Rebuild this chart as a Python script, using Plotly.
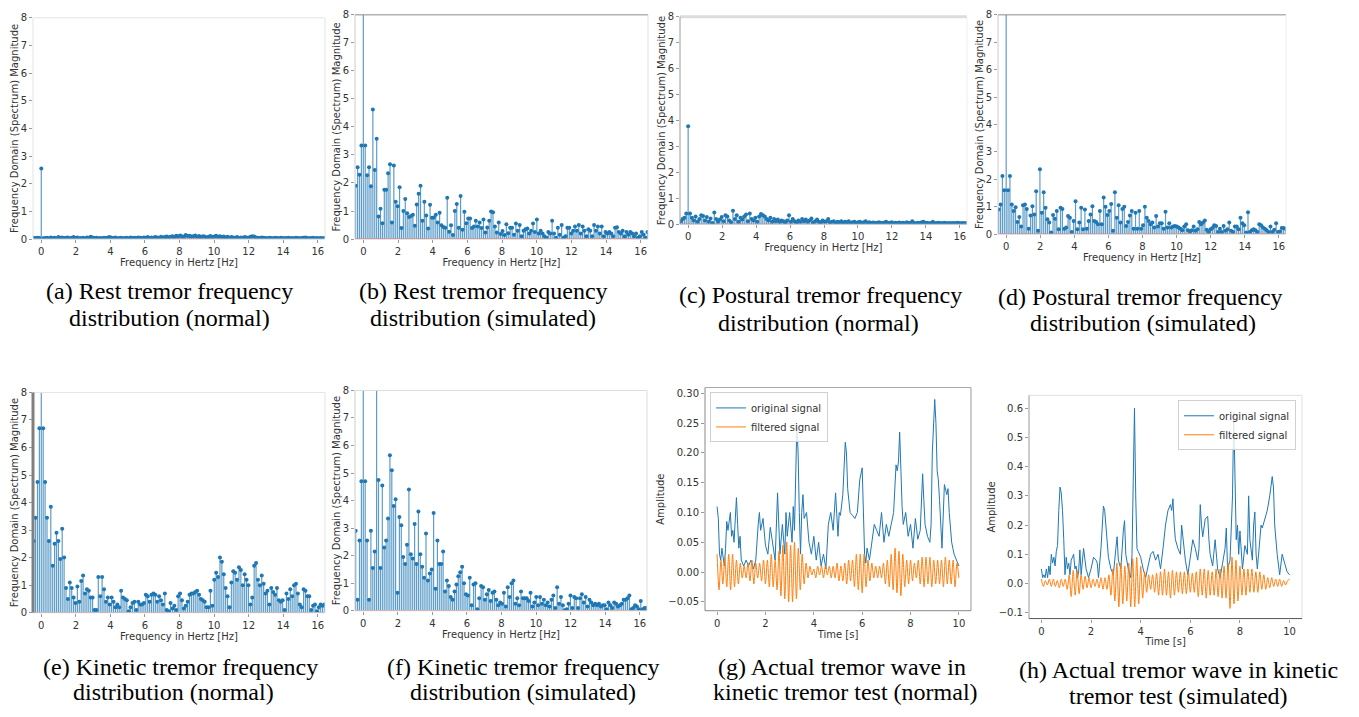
import plotly.graph_objects as go

W, H = 1359, 717
FREQ_STEP = 0.11  # spacing of spectrum bins in Hz

# ---------------- spectrum data: values below 0 Hz, at 0 Hz, above 0 Hz ----------------
A_NEG = [0.05, 0.04, 0.05, 0.04]
A_ZERO = 2.55
A_POS = [0.03, 0.04, 0.05, 0.03, 0.06, 0.04, 0.05, 0.03, 0.07, 0.05,
         0.06, 0.04, 0.05, 0.06, 0.03, 0.05, 0.07, 0.04, 0.06, 0.03,
         0.04, 0.05, 0.03, 0.06, 0.05, 0.08, 0.06, 0.04, 0.05, 0.03,
         0.04, 0.03, 0.05, 0.04, 0.06, 0.07, 0.05, 0.04, 0.06, 0.03,
         0.04, 0.05, 0.03, 0.04, 0.05, 0.03, 0.06, 0.04, 0.05, 0.04,
         0.06, 0.05, 0.04, 0.06, 0.05, 0.07, 0.04, 0.06, 0.05, 0.07,
         0.06, 0.05, 0.08, 0.06, 0.07, 0.09, 0.06, 0.08, 0.10, 0.07,
         0.12, 0.09, 0.13, 0.10, 0.08, 0.15, 0.11, 0.12, 0.09, 0.10,
         0.13, 0.08, 0.11, 0.07, 0.10, 0.09, 0.06, 0.08, 0.11, 0.07,
         0.09, 0.12, 0.08, 0.10, 0.07, 0.09, 0.06, 0.08, 0.05, 0.07,
         0.06, 0.05, 0.07, 0.04, 0.06, 0.05, 0.07, 0.06, 0.05, 0.08,
         0.10, 0.09, 0.06, 0.05, 0.04, 0.06, 0.05, 0.04, 0.03, 0.05,
         0.04, 0.03, 0.05, 0.04, 0.03, 0.05, 0.04, 0.03, 0.04, 0.05,
         0.03, 0.04, 0.03, 0.05, 0.04, 0.03, 0.04, 0.05, 0.06, 0.04,
         0.03, 0.04, 0.05, 0.03, 0.04, 0.03, 0.04, 0.03, 0.04]

B_NEG = [1.90, 2.56, 2.29, 3.34]
B_ZERO = 10.0
B_POS = [3.34, 2.28, 2.56, 1.88, 4.62, 2.46, 3.58, 0.80, 1.08, 0.56,
         1.76, 1.76, 2.35, 2.67, 0.59, 2.62, 1.33, 1.17, 1.85, 0.39,
         1.00, 1.43, 0.92, 0.79, 0.82, 0.87, 0.47, 1.23, 1.62, 1.90,
         0.65, 1.33, 0.84, 0.38, 1.22, 0.76, 0.77, 0.87, 0.59, 0.94,
         0.49, 0.43, 0.40, 1.47, 0.26, 0.49, 0.14, 1.00, 1.25, 0.40,
         1.54, 0.33, 0.97, 0.56, 0.73, 0.73, 0.39, 0.45, 0.65, 0.45,
         0.59, 0.39, 0.70, 0.23, 0.41, 0.65, 0.98, 0.96, 0.45, 0.23,
         0.59, 0.18, 0.29, 0.14, 0.53, 0.21, 0.40, 0.40, 0.15, 0.55,
         0.30, 0.50, 0.10, 0.30, 0.35, 0.38, 0.20, 0.30, 0.55, 0.25,
         0.70, 0.20, 0.30, 0.20, 0.10, 0.05, 0.25, 0.20, 0.65, 0.20,
         0.05, 0.40, 0.15, 0.50, 0.05, 0.10, 0.40, 0.40, 0.20, 0.30,
         0.45, 0.30, 0.50, 0.20, 0.45, 0.30, 0.10, 0.35, 0.30, 0.10,
         0.50, 0.30, 0.45, 0.20, 0.45, 0.10, 0.25, 0.20, 0.25, 0.20,
         0.10, 0.40, 0.42, 0.25, 0.20, 0.30, 0.10, 0.25, 0.15, 0.25,
         0.20, 0.10, 0.20, 0.05, 0.10, 0.25, 0.15, 0.05, 0.25]

C_NEG = [0.12, 0.20, 0.25, 0.42]
C_ZERO = 3.78
C_POS = [0.42, 0.25, 0.15, 0.30, 0.10, 0.20, 0.35, 0.32, 0.15, 0.28,
         0.10, 0.22, 0.05, 0.45, 0.20, 0.10, 0.18, 0.28, 0.12, 0.35,
         0.30, 0.15, 0.08, 0.52, 0.20, 0.35, 0.10, 0.25, 0.18, 0.30,
         0.38, 0.12, 0.42, 0.20, 0.15, 0.25, 0.10, 0.30, 0.40, 0.35,
         0.30, 0.20, 0.15, 0.25, 0.10, 0.20, 0.12, 0.18, 0.10, 0.15,
         0.12, 0.08, 0.15, 0.35, 0.10, 0.20, 0.12, 0.08, 0.15, 0.10,
         0.20, 0.12, 0.18, 0.10, 0.15, 0.22, 0.08, 0.12, 0.18, 0.10,
         0.08, 0.15, 0.10, 0.12, 0.20, 0.08, 0.10, 0.12, 0.06, 0.10,
         0.08, 0.12, 0.06, 0.10, 0.08, 0.12, 0.06, 0.08, 0.10, 0.06,
         0.08, 0.10, 0.05, 0.08, 0.12, 0.06, 0.08, 0.05, 0.07, 0.06,
         0.05, 0.08, 0.06, 0.05, 0.07, 0.10, 0.05, 0.06, 0.08, 0.05,
         0.06, 0.05, 0.07, 0.05, 0.06, 0.04, 0.08, 0.05, 0.06, 0.12,
         0.05, 0.04, 0.06, 0.05, 0.08, 0.10, 0.05, 0.06, 0.04, 0.05,
         0.10, 0.04, 0.05, 0.06, 0.05, 0.04, 0.06, 0.05, 0.04, 0.05,
         0.04, 0.05, 0.04, 0.06, 0.05, 0.04, 0.05, 0.04, 0.05]

D_NEG = [0.90, 1.08, 2.12, 1.60]
D_ZERO = 10.0
D_POS = [1.60, 2.12, 1.08, 0.84, 0.98, 0.44, 0.62, 0.28, 1.05, 1.08,
         0.92, 0.20, 0.68, 1.02, 0.72, 1.56, 0.12, 2.37, 0.78, 1.53,
         0.96, 0.54, 0.42, 0.06, 0.70, 0.56, 0.84, 0.18, 0.96, 0.92,
         0.20, 0.24, 0.66, 0.60, 0.08, 0.48, 1.20, 0.18, 0.42, 0.96,
         0.18, 0.90, 0.20, 0.48, 0.72, 1.02, 0.48, 0.44, 0.36, 0.84,
         0.36, 1.34, 1.00, 0.70, 0.84, 1.10, 0.12, 1.53, 0.60, 1.05,
         0.42, 0.92, 1.00, 0.30, 0.44, 0.68, 0.84, 0.20, 0.78, 0.20,
         0.84, 0.20, 0.32, 1.00, 0.60, 0.48, 0.36, 0.42, 0.24, 0.66,
         0.28, 0.40, 0.40, 0.20, 0.82, 0.24, 0.40, 0.24, 0.28, 0.30,
         0.28, 0.24, 0.20, 0.14, 0.28, 0.36, 0.14, 0.10, 0.14, 0.28,
         0.12, 0.18, 0.44, 0.36, 0.42, 0.50, 0.16, 0.08, 0.18, 0.22,
         0.32, 0.30, 0.08, 0.20, 0.08, 0.30, 0.12, 0.18, 0.42, 0.12,
         0.08, 0.28, 0.28, 0.18, 0.60, 0.40, 0.32, 0.06, 0.80, 0.08,
         0.14, 0.18, 0.14, 0.08, 0.36, 0.32, 0.24, 0.20, 0.14, 0.08,
         0.28, 0.08, 0.16, 0.40, 0.08, 0.10, 0.22, 0.22, 0.20]

E_NEG = [2.60, 3.45, 4.75, 6.70]
E_ZERO = 10.0
E_POS = [6.70, 4.75, 3.45, 2.60, 3.85, 1.70, 2.50, 2.90, 2.60, 1.95,
         3.05, 2.00, 0.90, 0.50, 1.10, 0.90, 0.55, 0.35, 0.95, 0.40,
         1.15, 1.35, 0.70, 0.85, 0.80, 0.55, 0.55, 0.10, 0.10, 1.30,
         0.60, 1.30, 0.85, 0.40, 0.55, 0.30, 0.55, 0.40, 0.20, 0.30,
         0.20, 0.80, 0.55, 0.50, 0.45, 0.05, 0.20, 0.35, 0.40, 0.10,
         0.40, 0.30, 0.30, 0.35, 0.65, 0.60, 0.40, 0.65, 0.70, 0.65,
         0.40, 0.60, 0.45, 0.30, 0.70, 0.10, 0.05, 0.35, 0.15, 0.25,
         0.10, 0.60, 0.70, 0.45, 0.15, 0.25, 0.40, 0.65, 0.70, 0.70,
         0.75, 0.80, 0.65, 0.50, 0.45, 0.40, 0.20, 0.20, 0.80, 0.25,
         1.20, 1.45, 1.30, 2.00, 1.85, 1.40, 0.90, 0.60, 0.20, 1.10,
         1.50, 1.45, 1.20, 1.65, 1.55, 1.00, 1.40, 1.20, 1.00, 0.30,
         0.55, 1.70, 1.80, 1.20, 1.00, 1.35, 1.05, 0.70, 0.80, 0.30,
         0.90, 0.75, 0.65, 0.90, 0.45, 0.40, 0.45, 0.10, 0.70, 0.50,
         0.85, 0.60, 1.00, 1.05, 0.70, 0.30, 0.20, 0.85, 0.80, 0.60,
         0.60, 0.10, 0.25, 0.30, 0.05, 0.20, 0.30, 0.25, 0.30]

F_NEG = [2.90, 0.40, 2.55, 4.70]
F_ZERO = 10.0
F_POS = [4.70, 2.55, 0.40, 2.90, 1.55, 2.15, 10.0, 4.75, 1.55, 4.55,
         2.30, 2.55, 3.35, 5.65, 5.10, 3.80, 4.05, 0.65, 3.40, 3.10,
         1.95, 1.70, 2.40, 4.40, 2.05, 1.90, 3.15, 1.70, 3.60, 2.05,
         1.60, 1.20, 2.80, 1.10, 1.35, 1.50, 3.55, 0.80, 2.55, 1.70,
         1.70, 2.15, 0.70, 1.10, 0.90, 0.50, 0.40, 0.70, 0.95, 1.25,
         1.40, 1.60, 1.00, 0.60, 0.55, 1.20, 0.20, 0.95, 1.00, 0.05,
         0.45, 0.90, 0.85, 0.40, 0.60, 0.75, 0.35, 0.65, 0.70, 0.40,
         0.20, 0.30, 0.25, 0.65, 0.15, 0.85, 0.50, 1.00, 1.10, 0.25,
         0.45, 0.20, 0.70, 0.45, 0.45, 0.45, 0.35, 0.65, 0.15, 0.30,
         0.50, 0.20, 0.50, 0.25, 0.40, 0.20, 0.30, 0.15, 0.40, 0.55,
         0.10, 0.85, 0.25, 0.50, 0.20, 0.02, 0.05, 0.25, 0.55, 0.10,
         0.50, 0.45, 0.10, 0.45, 0.60, 0.30, 0.50, 0.15, 0.40, 0.30,
         0.20, 0.25, 0.20, 0.25, 0.15, 0.20, 0.20, 0.05, 0.30, 0.20,
         0.10, 0.30, 0.25, 0.15, 0.20, 0.25, 0.40, 0.40, 0.45, 0.55,
         0.05, 0.10, 0.20, 0.15, 0.05, 0.35, 0.05, 0.10, 0.10]

# ---------------- time-domain data (g) and (h): (time s, amplitude) ----------------
G_ORIG = [(0.0, 0.11), (0.05, 0.09), (0.1, 0.03), (0.15, 0.02), (0.2, 0.04), (0.25, 0.02),
          (0.3, 0.01), (0.35, 0.04), (0.4, 0.085), (0.45, 0.07), (0.5, 0.09), (0.55, 0.10),
          (0.6, 0.06), (0.65, 0.07), (0.7, 0.05), (0.75, 0.09), (0.8, 0.125), (0.85, 0.08),
          (0.9, 0.04), (0.95, 0.06), (1.0, 0.02), (1.1, 0.01), (1.2, 0.02), (1.3, 0.01),
          (1.4, 0.02), (1.5, 0.005), (1.6, 0.02), (1.7, 0.08), (1.75, 0.10), (1.8, 0.07),
          (1.9, 0.09), (2.0, 0.045), (2.1, 0.03), (2.2, 0.075), (2.3, 0.05), (2.4, 0.02),
          (2.5, 0.133), (2.55, 0.06), (2.6, 0.03), (2.7, 0.08), (2.8, 0.03), (2.85, 0.10),
          (2.9, 0.06), (3.0, 0.10), (3.1, 0.05), (3.15, 0.11), (3.2, 0.07), (3.3, 0.248),
          (3.35, 0.20), (3.4, 0.10), (3.45, 0.03), (3.5, 0.10), (3.55, 0.13), (3.6, 0.09),
          (3.7, 0.10), (3.8, 0.05), (3.9, 0.03), (4.0, 0.06), (4.1, 0.02), (4.2, 0.05),
          (4.3, 0.01), (4.4, 0.03), (4.5, 0.005), (4.6, 0.08), (4.7, 0.10), (4.8, 0.07),
          (4.9, 0.133), (5.0, 0.06), (5.05, 0.10), (5.1, 0.095), (5.2, 0.13), (5.3, 0.218),
          (5.35, 0.20), (5.4, 0.14), (5.5, 0.10), (5.6, 0.095), (5.7, 0.09), (5.8, 0.10),
          (5.9, 0.155), (6.0, 0.175), (6.05, 0.08), (6.1, 0.03), (6.15, 0.015), (6.2, 0.04),
          (6.3, 0.02), (6.4, 0.05), (6.5, 0.08), (6.6, 0.07), (6.7, 0.06), (6.8, 0.10),
          (6.9, 0.05), (7.0, 0.08), (7.1, 0.06), (7.2, 0.08), (7.3, 0.10), (7.4, 0.18),
          (7.45, 0.17), (7.5, 0.185), (7.55, 0.235), (7.65, 0.11), (7.7, 0.08), (7.8, 0.10),
          (7.9, 0.06), (8.0, 0.08), (8.1, 0.04), (8.2, 0.09), (8.3, 0.055), (8.4, 0.07),
          (8.5, 0.165), (8.55, 0.12), (8.6, 0.08), (8.7, 0.06), (8.8, 0.05), (8.85, 0.08),
          (8.9, 0.20), (9.0, 0.29), (9.05, 0.25), (9.1, 0.17), (9.15, 0.155), (9.2, 0.12),
          (9.3, 0.04), (9.4, 0.147), (9.5, 0.13), (9.55, 0.14), (9.6, 0.10), (9.7, 0.05),
          (9.8, 0.03), (9.9, 0.02), (10.0, 0.01)]

# filtered signals: successive extrema, one every 0.08 s
FILT_T = [round(i * 0.08, 2) for i in range(126)]
G_FILT = [0.03, -0.03, 0.02, -0.02, 0.025, -0.025, 0.03, -0.03, 0.03, -0.025, 0.02, -0.02, 0.015,
          -0.01, 0.01, -0.01, 0.015, -0.015, 0.02, -0.02, 0.015, -0.01, 0.015, -0.015, 0.02, -0.02,
          0.02, -0.025, 0.03, -0.025, 0.02, -0.03, 0.035, -0.04, 0.045, -0.045, 0.05, -0.05, 0.045,
          -0.05, 0.05, -0.045, 0.04, -0.03, 0.03, -0.02, 0.015, -0.01, 0.01, -0.005, 0.005,
          -0.01, 0.01, -0.005, 0.01, -0.01, 0.01, -0.005, 0.01, -0.01, 0.01, -0.01, 0.015, -0.015,
          0.01, -0.015, 0.015, -0.02, 0.02, -0.015, 0.02, -0.025, 0.03, -0.03, 0.03, -0.035,
          0.03, -0.025, 0.02, -0.015, 0.015, -0.01, 0.01, -0.01, 0.01, -0.01, 0.015, -0.02, 0.02,
          -0.025, 0.03, -0.03, 0.04, -0.035, 0.035, -0.04, 0.03, -0.025, 0.02, -0.02, 0.02,
          -0.015, 0.015, -0.01, 0.02, -0.02, 0.025, -0.025, 0.025, -0.02, 0.025, -0.025, 0.02, -0.02,
          0.02, -0.02, 0.02, -0.025, 0.025, -0.02, 0.02, -0.02, 0.02, -0.025, 0.015, -0.01]

H_ORIG = [(0.0, 0.05), (0.05, 0.02), (0.1, 0.03), (0.15, 0.02), (0.2, 0.05), (0.25, 0.02),
          (0.3, 0.06), (0.35, 0.03), (0.4, 0.10), (0.45, 0.07), (0.5, 0.09), (0.55, 0.06),
          (0.6, 0.11), (0.65, 0.13), (0.7, 0.25), (0.75, 0.33), (0.8, 0.31), (0.85, 0.25),
          (0.9, 0.15), (0.95, 0.03), (1.0, 0.09), (1.05, 0.05), (1.1, 0.07), (1.15, 0.03),
          (1.2, 0.08), (1.3, 0.10), (1.35, 0.05), (1.4, 0.06), (1.45, 0.02), (1.5, 0.04),
          (1.55, 0.115), (1.6, 0.03), (1.7, 0.12), (1.75, 0.07), (1.8, 0.05), (1.9, 0.02),
          (2.0, 0.05), (2.1, 0.09), (2.2, 0.08), (2.25, 0.07), (2.3, 0.02), (2.4, 0.12),
          (2.5, 0.265), (2.55, 0.25), (2.6, 0.20), (2.7, 0.09), (2.8, 0.05), (2.9, 0.03),
          (3.0, 0.12), (3.05, 0.16), (3.1, 0.08), (3.2, 0.05), (3.3, 0.18), (3.35, 0.215),
          (3.4, 0.10), (3.5, 0.05), (3.6, 0.02), (3.65, 0.10), (3.7, 0.35), (3.75, 0.60),
          (3.8, 0.30), (3.85, 0.12), (3.9, 0.11), (4.0, 0.09), (4.1, 0.05), (4.2, 0.02),
          (4.3, 0.06), (4.4, 0.10), (4.5, 0.11), (4.6, 0.08), (4.7, 0.10), (4.8, 0.05),
          (4.9, 0.12), (5.0, 0.20), (5.1, 0.25), (5.2, 0.27), (5.25, 0.25), (5.3, 0.29),
          (5.35, 0.20), (5.4, 0.15), (5.5, 0.12), (5.6, 0.10), (5.65, 0.20), (5.7, 0.15),
          (5.8, 0.08), (5.9, 0.03), (6.0, 0.10), (6.1, 0.15), (6.2, 0.12), (6.3, 0.08),
          (6.35, 0.12), (6.4, 0.27), (6.45, 0.20), (6.5, 0.16), (6.6, 0.22), (6.7, 0.23),
          (6.75, 0.15), (6.8, 0.10), (6.9, 0.06), (7.0, 0.15), (7.1, 0.05), (7.2, 0.02),
          (7.3, 0.07), (7.4, 0.12), (7.45, 0.19), (7.5, 0.05), (7.6, 0.08), (7.7, 0.30),
          (7.75, 0.585), (7.8, 0.35), (7.85, 0.15), (7.9, 0.20), (7.95, 0.10), (8.0, 0.18),
          (8.1, 0.05), (8.2, 0.13), (8.3, 0.10), (8.35, 0.30), (8.4, 0.15), (8.5, 0.08),
          (8.55, 0.20), (8.6, 0.245), (8.65, 0.10), (8.7, 0.05), (8.8, 0.15), (8.85, 0.20),
          (8.9, 0.19), (9.0, 0.22), (9.1, 0.25), (9.2, 0.30), (9.3, 0.366), (9.35, 0.33),
          (9.4, 0.20), (9.5, 0.10), (9.6, 0.03), (9.7, 0.10), (9.8, 0.07), (9.9, 0.04),
          (10.0, 0.03)]

H_FILT = [0.015, -0.01, 0.01, -0.005, 0.015, -0.01, 0.015, -0.01, 0.01, -0.015, 0.015, -0.01, 0.015,
          -0.02, 0.03, -0.045, 0.045, -0.04, 0.045, -0.035, 0.03, -0.02, 0.025, -0.015, 0.02, -0.015,
          0.015, -0.01, 0.015, -0.015, 0.02, -0.02, 0.02, -0.02, 0.03, -0.04, 0.05, -0.06, 0.07,
          -0.08, 0.07, -0.07, 0.06, -0.06, 0.07, -0.08, 0.085, -0.08, 0.09, -0.07, 0.06,
          -0.05, 0.04, -0.03, 0.03, -0.02, 0.03, -0.03, 0.035, -0.04, 0.04, -0.04, 0.05, -0.04,
          0.04, -0.05, 0.045, -0.04, 0.04, -0.03, 0.04, -0.035, 0.04, -0.035, 0.04, -0.03,
          0.035, -0.03, 0.04, -0.045, 0.05, -0.04, 0.05, -0.05, 0.045, -0.04, 0.04, -0.04, 0.05,
          -0.045, 0.05, -0.05, 0.06, -0.05, 0.07, -0.085, 0.09, -0.07, 0.08, -0.06, 0.06,
          -0.04, 0.05, -0.04, 0.05, -0.03, 0.05, -0.03, 0.04, -0.03, 0.04, -0.02, 0.03, -0.02,
          0.02, -0.015, 0.02, -0.01, 0.015, -0.01, 0.015, -0.01, 0.01, -0.005, 0.01, 0.015]

CAPTIONS = [
    ("(a) Rest tremor frequency", "distribution (normal)"),
    ("(b) Rest tremor frequency", "distribution (simulated)"),
    ("(c) Postural tremor frequency", "distribution (normal)"),
    ("(d) Postural tremor frequency", "distribution (simulated)"),
    ("(e) Kinetic tremor frequency", "distribution (normal)"),
    ("(f) Kinetic tremor frequency", "distribution (simulated)"),
    ("(g) Actual tremor wave in", "kinetic tremor test (normal)"),
    ("(h) Actual tremor wave in kinetic", "tremor test (simulated)"),
]
SPEC_TICKS_X = [0, 2, 4, 6, 8, 10, 12, 14, 16]
SPEC_TICKS_Y = [0, 1, 2, 3, 4, 5, 6, 7, 8]
TIME_TICKS = [0, 2, 4, 6, 8, 10]
G_TICKS_Y = [-0.05, 0.0, 0.05, 0.10, 0.15, 0.20, 0.25, 0.30]
H_TICKS_Y = [-0.1, 0.0, 0.1, 0.2, 0.3, 0.4, 0.5, 0.6]

# ---------------- layout helpers (pixel boxes: left, top, right, bottom) ----------------
SPEC = [
    dict(box=(33, 12, 325, 237), d=(A_NEG, A_ZERO, A_POS),
         frame=(("#e4e4e4", 1), ("#e4e4e4", 1), ("#cccccc", 1), ("#e4e4e4", 1))),
    dict(box=(355, 9, 648, 237), d=(B_NEG, B_ZERO, B_POS),
         frame=(("#8c8c8c", 1), ("#e0e0e0", 1), ("#cccccc", 1), ("#cccccc", 1))),
    dict(box=(680, 11, 967, 222), d=(C_NEG, C_ZERO, C_POS),
         frame=(("#dcdcdc", 3), ("#eeeeee", 1), ("#cccccc", 1), ("#9a9a9a", 1))),
    dict(box=(998, 9, 1286, 232), d=(D_NEG, D_ZERO, D_POS),
         frame=(("#8c8c8c", 1), ("#eeeeee", 1), ("#cccccc", 1), ("#cccccc", 1))),
    dict(box=(33, 393, 325, 617), d=(E_NEG, E_ZERO, E_POS),
         frame=(("#e4e4e4", 1), ("#e4e4e4", 1), ("#cccccc", 1), ("#808080", 3))),
    dict(box=(355, 391, 647, 615), d=(F_NEG, F_ZERO, F_POS),
         frame=(("#dcdcdc", 1), ("#dcdcdc", 1), ("#cccccc", 1), ("#cccccc", 1))),
]
TIME = [
    dict(box=(705, 388, 971, 615), orig=G_ORIG, f=G_FILT, rng=[-0.065, 0.31],
         ticks=G_TICKS_Y, fmt=".2f", legend="legend",
         frame=(("#aaaaaa", 1), ("#999999", 1), ("#888888", 1), ("#888888", 1))),
    dict(box=(1029, 396, 1302, 623), orig=H_ORIG, f=H_FILT, rng=[-0.12, 0.644],
         ticks=H_TICKS_Y, fmt=".1f", legend="legend2",
         frame=(("#e0e0e0", 1), ("#e0e0e0", 1), ("#555555", 1), ("#999999", 1))),
]
CAP_POS = [((169, 290), (169, 317)), ((483, 290), (483, 317)),
           ((820, 294), (818, 322)), ((1140, 296), (1143, 322)),
           ((180, 672), (174, 698)), ((523, 672), (523, 698)),
           ((842, 672), (845, 698)), ((1178, 675), (1178, 702))]

BLUE = "#1f77b4"
ORANGE = "#ff7f0e"
TICKFONT = dict(family="DejaVu Sans", size=10, color="#333333")

fig = go.Figure()
layout = dict(width=W, height=H, margin=dict(l=0, r=0, t=0, b=0),
              paper_bgcolor="white", plot_bgcolor="white",
              font=dict(family="DejaVu Sans", size=10, color="#333333"),
              showlegend=True, shapes=[], annotations=[])


def dom(box):
    l, t, r, b = box
    return [l / W, r / W], [1 - b / H, 1 - t / H]


def add_frame(k, frame):
    xr = "x domain" if k == 1 else f"x{k} domain"
    yr = "y domain" if k == 1 else f"y{k} domain"
    sides = [(0, 1, 1, 1), (1, 1, 0, 1), (0, 1, 0, 0), (0, 0, 0, 1)]
    for (x0, x1, y0, y1), (col, wd) in zip(sides, frame):
        layout["shapes"].append(dict(type="line", xref=xr, yref=yr, x0=x0, x1=x1,
                                     y0=y0, y1=y1, line=dict(color=col, width=wd)))


def axis_common():
    return dict(showgrid=False, zeroline=False, ticks="outside", ticklen=3,
                tickcolor="#999999", tickfont=TICKFONT, showline=False)


k = 0
for p in SPEC:
    k += 1
    neg, zero, pos = p["d"]
    ys = list(neg) + [zero] + list(pos)
    xs = [round((i - len(neg)) * FREQ_STEP, 4) for i in range(len(ys))]
    sx, sy = [], []
    for x, y in zip(xs, ys):
        sx += [x, x, None]
        sy += [0, y, None]
    xa = "x" if k == 1 else f"x{k}"
    ya = "y" if k == 1 else f"y{k}"
    fig.add_trace(go.Scatter(x=sx, y=sy, mode="lines", xaxis=xa, yaxis=ya,
                             line=dict(color="rgba(31,119,180,0.72)", width=1.2),
                             showlegend=False, hoverinfo="skip"))
    fig.add_trace(go.Scatter(x=[xs[0], xs[-1]], y=[0, 0], mode="lines", xaxis=xa, yaxis=ya,
                             line=dict(color="#d62728", width=1), showlegend=False))
    fig.add_trace(go.Scatter(x=xs, y=ys, mode="markers", xaxis=xa, yaxis=ya,
                             marker=dict(color=BLUE, size=4), showlegend=False))
    xd, yd = dom(p["box"])
    xk = "xaxis" if k == 1 else f"xaxis{k}"
    yk = "yaxis" if k == 1 else f"yaxis{k}"
    layout[xk] = dict(domain=xd, anchor=ya, range=[-0.48, 16.42], tickvals=SPEC_TICKS_X,
                      title=dict(text="Frequency in Hertz [Hz]", font=TICKFONT, standoff=0),
                      **axis_common())
    layout[yk] = dict(domain=yd, anchor=xa, range=[0, 8], tickvals=SPEC_TICKS_Y,
                      title=dict(text="Frequency Domain (Spectrum) Magnitude", font=TICKFONT,
                                 standoff=0),
                      **axis_common())
    add_frame(k, p["frame"])

for p in TIME:
    k += 1
    xa, ya = f"x{k}", f"y{k}"
    t = [a for a, _ in p["orig"]]
    v = [b for _, b in p["orig"]]
    fig.add_trace(go.Scatter(x=t, y=v, mode="lines", xaxis=xa, yaxis=ya, name="original signal",
                             line=dict(color=BLUE, width=1), legend=p["legend"]))
    fig.add_trace(go.Scatter(x=FILT_T, y=p["f"], mode="lines", xaxis=xa, yaxis=ya,
                             name="filtered signal", legend=p["legend"],
                             line=dict(color=ORANGE, width=1, shape="spline", smoothing=0.8)))
    xd, yd = dom(p["box"])
    layout[f"xaxis{k}"] = dict(domain=xd, anchor=ya, range=[-0.5, 10.5], tickvals=TIME_TICKS,
                               title=dict(text="Time [s]", font=TICKFONT, standoff=2),
                               **axis_common())
    layout[f"yaxis{k}"] = dict(domain=yd, anchor=xa, range=p["rng"], tickvals=p["ticks"],
                               tickformat=p["fmt"],
                               title=dict(text="Amplitude", font=TICKFONT, standoff=1),
                               **axis_common())
    add_frame(k, p["frame"])

leg_style = dict(bgcolor="rgba(255,255,255,0.85)", bordercolor="#d0d0d0", borderwidth=1,
                 font=dict(family="DejaVu Sans", size=10, color="#333333"),
                 tracegroupgap=0, itemwidth=30)
layout["legend"] = dict(x=710 / W, y=1 - 393 / H, xanchor="left", yanchor="top", **leg_style)
layout["legend2"] = dict(x=1296 / W, y=1 - 401 / H, xanchor="right", yanchor="top", **leg_style)

for (l1, l2), ((x1, y1), (x2, y2)) in zip(CAPTIONS, CAP_POS):
    for txt, cx, cy in ((l1, x1, y1), (l2, x2, y2)):
        layout["annotations"].append(dict(
            text=txt, x=cx / W, y=1 - cy / H, xref="paper", yref="paper",
            xanchor="center", yanchor="middle", showarrow=False,
            font=dict(family="Liberation Serif", size=24, color="black")))

fig.update_layout(**layout)
fig.write_html("out.html", config={"displayModeBar": False},
               post_script="document.body.style.margin='0px';")
